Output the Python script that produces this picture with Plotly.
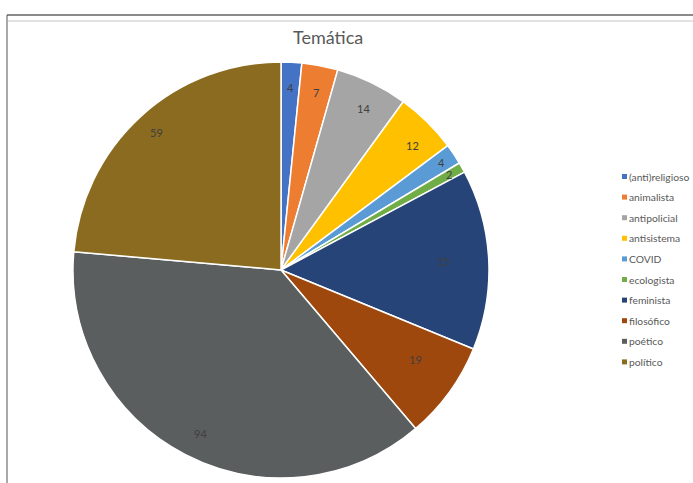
import math
import plotly.graph_objects as go

categories = ["(anti)religioso", "animalista", "antipolicial", "antisistema", "COVID",
              "ecologista", "feminista", "filosófico", "poético", "político"]
values = [4, 7, 14, 12, 4, 2, 35, 19, 94, 59]
colors = ["#4472C4", "#ED7D31", "#A5A5A5", "#FFC000", "#5B9BD5",
          "#70AD47", "#264478", "#9E480E", "#5A5E5E", "#8B6B1F"]
label_radius = [0.92, 0.91, 0.91, 0.9, 0.93, 0.93, 0.78, 0.8, 0.93, 0.95]

W, H = 693, 483
cx, cy, R = 281, 270, 208
FONT = "Lato"

fig = go.Figure()
fig.add_trace(go.Pie(
    labels=categories, values=values, sort=False, direction="clockwise", rotation=0,
    marker=dict(colors=colors, line=dict(color="white", width=1.5)),
    textinfo="none", hoverinfo="label+value", showlegend=False,
    domain=dict(x=[(cx - R) / W, (cx + R) / W], y=[(H - cy - R) / H, (H - cy + R) / H]),
))

total = sum(values)
cum = 0
annotations = []
shapes = []
for v, lr in zip(values, label_radius):
    mid = (cum + v / 2) / total * 2 * math.pi
    cum += v
    px = cx + lr * R * math.sin(mid)
    py = cy - lr * R * math.cos(mid)
    annotations.append(dict(x=px / W, y=1 - py / H, xref="paper", yref="paper",
                            text=str(v), showarrow=False,
                            font=dict(size=11, color="#404040", family=FONT)))

# legend (built from categories / colors)
lx, ly0, dy = 624.5, 176.5, 20.6
for i, (cat, col) in enumerate(zip(categories, colors)):
    yy = ly0 + i * dy
    shapes.append(dict(type="rect", xref="paper", yref="paper",
                       x0=(lx - 2.5) / W, x1=(lx + 2.5) / W,
                       y0=1 - (yy + 2.5) / H, y1=1 - (yy - 2.5) / H,
                       fillcolor=col, line=dict(width=0)))
    annotations.append(dict(x=(lx + 3) / W, y=1 - yy / H, xref="paper", yref="paper",
                            text=cat, showarrow=False, xanchor="left", yanchor="middle",
                            borderpad=0,
                            font=dict(size=10.3, color="#595959", family=FONT)))

annotations.append(dict(x=328 / W, y=1 - 37 / H, xref="paper", yref="paper",
                        text="Temática", showarrow=False, yanchor="middle",
                        font=dict(size=18, color="#595959", family=FONT)))

shapes += [
    dict(type="line", xref="paper", yref="paper", x0=7 / W, x1=1, y0=1 - 15 / H, y1=1 - 15 / H,
         line=dict(color="#8a8a8a", width=2)),
    dict(type="line", xref="paper", yref="paper", x0=8 / W, x1=1, y0=1 - 21 / H, y1=1 - 21 / H,
         line=dict(color="#d9d9d9", width=1.5)),
    dict(type="line", xref="paper", yref="paper", x0=7 / W, x1=7 / W, y0=0, y1=1 - 15 / H,
         line=dict(color="#555555", width=1)),
]

fig.update_layout(
    width=W, height=H, margin=dict(l=0, r=0, t=0, b=0, pad=0),
    paper_bgcolor="white", plot_bgcolor="white",
    showlegend=False,
    annotations=annotations, shapes=shapes,
)

fig.write_html("out.html")
